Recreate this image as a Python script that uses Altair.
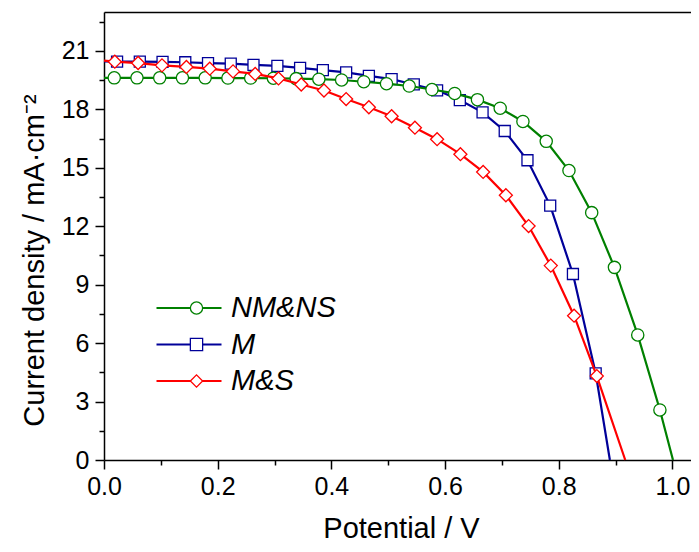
import altair as alt
import pandas as pd

FONT = "Liberation Sans"

SERIES = ["NM&NS", "M", "M&S"]
KEYS = ["1", "2", "3"]
COLORS = ["#008000", "#000099", "#ff0000"]
SHAPES = ["circle", "square", "diamond"]
SIZES = [150, 121, 169]
DRAW_ORDER = ["M", "NM&NS", "M&S"]

X_TICKS = [0.0, 0.1, 0.2, 0.3, 0.4, 0.5, 0.6, 0.7, 0.8, 0.9, 1.0]
Y_TICKS = [0, 1.5, 3, 4.5, 6, 7.5, 9, 10.5, 12, 13.5, 15, 16.5, 18, 19.5, 21, 22.5]

NMNS_V = [0.018, 0.058, 0.098, 0.138, 0.178, 0.218, 0.258, 0.298, 0.338, 0.378,
          0.418, 0.457, 0.497, 0.537, 0.577, 0.617, 0.657, 0.697, 0.737, 0.778,
          0.818, 0.858, 0.898, 0.939, 0.978]
NMNS_J = [19.62, 19.62, 19.62, 19.62, 19.62, 19.61, 19.61, 19.60, 19.58, 19.55,
          19.51, 19.42, 19.32, 19.20, 19.02, 18.82, 18.50, 18.06, 17.38, 16.36,
          14.86, 12.70, 9.89, 6.42, 2.57]

M_V = [0.023, 0.063, 0.103, 0.143, 0.183, 0.223, 0.263, 0.305, 0.345, 0.385,
       0.426, 0.466, 0.506, 0.545, 0.586, 0.626, 0.666, 0.705, 0.745, 0.785,
       0.825, 0.865]
M_J = [20.45, 20.45, 20.44, 20.42, 20.38, 20.35, 20.29, 20.23, 20.13, 20.02,
       19.90, 19.72, 19.55, 19.28, 18.98, 18.48, 17.85, 16.89, 15.39, 13.06,
       9.55, 4.45]

MS_V = [0.019, 0.060, 0.102, 0.145, 0.186, 0.227, 0.266, 0.307, 0.347, 0.387,
        0.426, 0.466, 0.506, 0.547, 0.586, 0.627, 0.667, 0.707, 0.747, 0.786,
        0.827, 0.867]
MS_J = [20.45, 20.38, 20.26, 20.18, 20.09, 19.95, 19.82, 19.59, 19.28, 18.97,
        18.53, 18.11, 17.65, 17.06, 16.47, 15.70, 14.79, 13.59, 12.01, 9.98,
        7.41, 4.31]

J_AT_ZERO = [19.62, 20.46, 20.50]   # current at V = 0 (line start)
V_OC = [1.001, 0.890, 0.917]        # open-circuit voltage (line end, J = 0)

rows = []
for name, key, vs, js, j0, voc in zip(SERIES, KEYS, [NMNS_V, M_V, MS_V],
                                      [NMNS_J, M_J, MS_J], J_AT_ZERO, V_OC):
    rows.append(dict(series=name, k=key, V=0.0, J=j0, marker=False))
    for v, j in zip(vs, js):
        rows.append(dict(series=name, k=key, V=v, J=j, marker=True))
    rows.append(dict(series=name, k=key, V=voc, J=0.0, marker=False))
df = pd.DataFrame(rows)

xscale = alt.Scale(domain=[0, 1.0327], nice=False, zero=False)
yscale = alt.Scale(domain=[0, 23], nice=False, zero=False)

x_axis = alt.Axis(
    values=X_TICKS,
    labelExpr="round(datum.value*10) % 2 == 0 ? format(datum.value, '.1f') : ''",
    tickSize=alt.condition("round(datum.value*10) % 2 == 0", alt.value(9), alt.value(5)),
    tickWidth=1.5, tickColor="black", domainColor="black", domainWidth=1.5,
    labelFontSize=25, labelFont=FONT, labelColor="black", labelPadding=5,
    labelOverlap=False, labelFlush=False, grid=False,
    title="Potential / V", titleFontSize=29, titleFont=FONT, titleFontWeight="normal",
    titleColor="black", titleX=297, titleY=77, titleBaseline="alphabetic",
)
y_axis = alt.Axis(
    values=Y_TICKS,
    labelExpr="datum.value % 3 == 0 ? datum.label : ''",
    tickSize=alt.condition("datum.value % 3 == 0", alt.value(9), alt.value(5)),
    tickWidth=1.5, tickColor="black", domainColor="black", domainWidth=1.5,
    labelFontSize=25, labelFont=FONT, labelColor="black", labelPadding=6,
    labelOverlap=False, labelFlush=False, grid=False,
    title="Current density / mA·cm⁻²", titleFontSize=29, titleFont=FONT,
    titleFontWeight="normal", titleColor="black", titleAngle=270,
    titleX=-61, titleY=248, titleBaseline="alphabetic",
)

line_legend = alt.Legend(
    orient="none", legendX=51, legendY=282, padding=0, rowPadding=7.5,
    symbolType="stroke", symbolSize=4225, symbolStrokeWidth=2.2, labelOffset=8,
    labelFontSize=29, labelFont=FONT, labelFontStyle="italic", labelColor="black",
    labelLimit=0, title=None, clipHeight=28,
)
marker_legend = alt.Legend(
    orient="none", legendX=78, legendY=282, padding=0, rowPadding=7.5,
    symbolSize=150, symbolStrokeWidth=1.3, symbolFillColor="white",
    labelOpacity=0, labelFontSize=29, labelFont=FONT, title=None, clipHeight=28,
)

color_enc = alt.Color("series:N", scale=alt.Scale(domain=SERIES, range=COLORS),
                      legend=line_legend)
stroke_enc = alt.Stroke("k:N", scale=alt.Scale(domain=KEYS, range=COLORS),
                        legend=marker_legend)
shape_enc = alt.Shape("k:N", scale=alt.Scale(domain=KEYS, range=SHAPES),
                      legend=marker_legend)

base = alt.Chart(df)
layers = []
for s in DRAW_ORDER:
    i = SERIES.index(s)
    line = base.transform_filter(alt.datum.series == s).mark_line(
        strokeWidth=2.2).encode(
        x=alt.X("V:Q", scale=xscale, axis=x_axis),
        y=alt.Y("J:Q", scale=yscale, axis=y_axis),
        color=color_enc,
    )
    pts = base.transform_filter(alt.datum.series == s).transform_filter(
        alt.datum.marker).mark_point(
        filled=False, fill="white", opacity=1, strokeWidth=1.3, size=SIZES[i]).encode(
        x=alt.X("V:Q", scale=xscale, axis=x_axis),
        y=alt.Y("J:Q", scale=yscale, axis=y_axis),
        stroke=stroke_enc,
        shape=shape_enc,
    )
    layers += [line, pts]

data_layer = alt.layer(*layers)

top = alt.Chart(pd.DataFrame({"V": X_TICKS})).mark_point(opacity=0).encode(
    x=alt.X("V:Q", scale=xscale,
            axis=alt.Axis(orient="top", labels=False, ticks=False, title=None,
                          domainColor="black", domainWidth=1.5, grid=False)),
)

chart = alt.layer(data_layer, top).resolve_axis(x="independent").properties(
    width=587, height=448,
    padding={"left": 96, "top": 4, "right": 0, "bottom": 84},
    autosize=alt.AutoSizeParams(type="none"),
).configure_view(stroke=None)

chart.save("out.html", embed_options={"renderer": "svg", "actions": False})
